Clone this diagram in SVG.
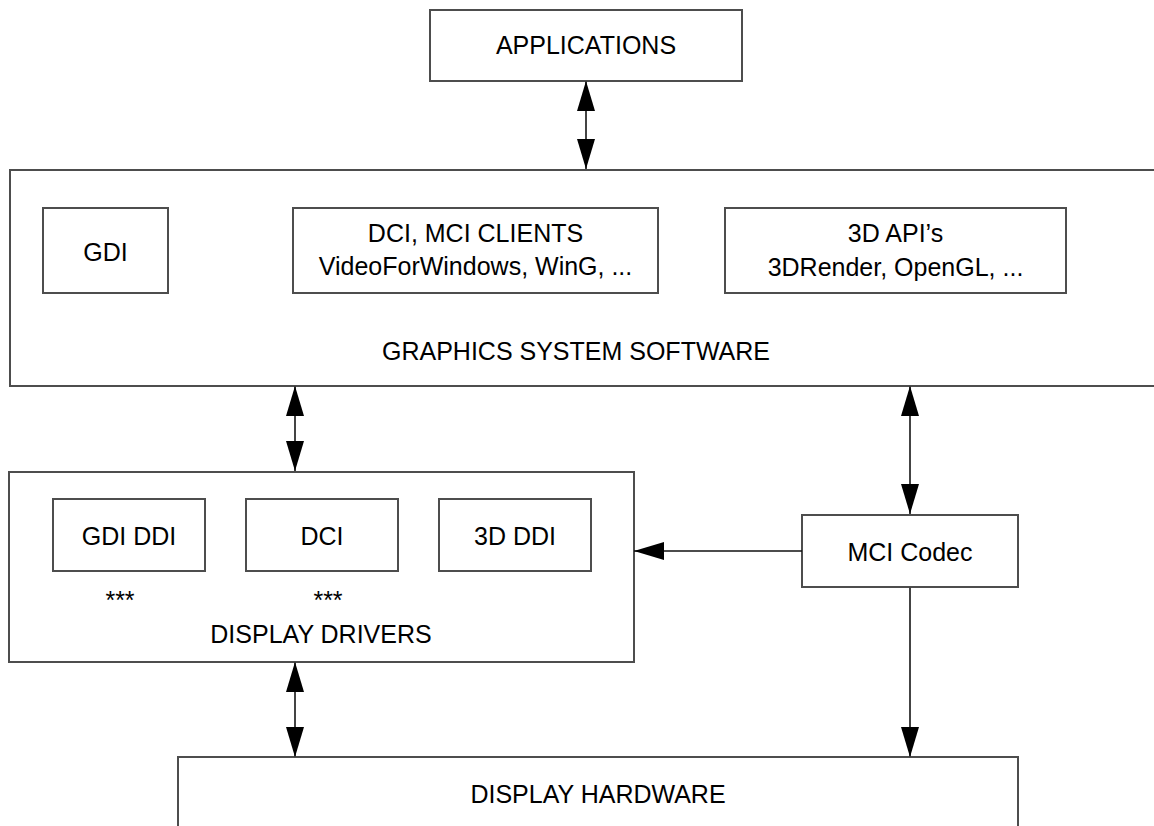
<svg xmlns="http://www.w3.org/2000/svg" width="1154" height="826" viewBox="0 0 1154 826">
<style>
  .box { fill: #ffffff; stroke: #4d4d4d; stroke-width: 2; }
  .lbl { font-family: "Liberation Sans", Arial, sans-serif; font-size: 25px; fill: #000000; text-anchor: middle; }
  .conn { fill: none; stroke: #444444; stroke-width: 2; }
</style>
<defs>
  <marker id="ah" viewBox="0 0 30 18" refX="30" refY="9" markerWidth="30" markerHeight="18" markerUnits="userSpaceOnUse" orient="auto-start-reverse">
    <path d="M0,0 L30,9 L0,18 Z" fill="#000000"/>
  </marker>
</defs>
<rect width="1154" height="826" fill="#ffffff"/>

<g id="graphics-system">
  <rect class="box" x="10" y="170" width="1160" height="216"/>
  <text class="lbl" x="576" y="360">GRAPHICS SYSTEM SOFTWARE</text>
</g>
<g id="gdi">
  <rect class="box" x="43" y="208" width="125" height="85"/>
  <text class="lbl" x="105.5" y="261">GDI</text>
</g>
<g id="dci-mci-clients">
  <rect class="box" x="293" y="208" width="365" height="85"/>
  <text class="lbl" x="475.5" y="242">DCI, MCI CLIENTS</text>
  <text class="lbl" x="475.5" y="275">VideoForWindows, WinG, ...</text>
</g>
<g id="api-3d">
  <rect class="box" x="725" y="208" width="341" height="85"/>
  <text class="lbl" x="895.5" y="242">3D API’s</text>
  <text class="lbl" x="895.5" y="276">3DRender, OpenGL, ...</text>
</g>
<g id="applications">
  <rect class="box" x="430" y="10" width="312" height="71"/>
  <text class="lbl" x="586" y="54">APPLICATIONS</text>
</g>
<g id="display-drivers">
  <rect class="box" x="9" y="472" width="625" height="190"/>
  <text class="lbl" x="120" y="609">***</text>
  <text class="lbl" x="328" y="609">***</text>
  <text class="lbl" x="321" y="643">DISPLAY DRIVERS</text>
</g>
<g id="gdi-ddi">
  <rect class="box" x="53" y="499" width="152" height="72"/>
  <text class="lbl" x="129" y="545">GDI DDI</text>
</g>
<g id="dci">
  <rect class="box" x="246" y="499" width="152" height="72"/>
  <text class="lbl" x="322" y="545">DCI</text>
</g>
<g id="ddi-3d">
  <rect class="box" x="439" y="499" width="152" height="72"/>
  <text class="lbl" x="515" y="545">3D DDI</text>
</g>
<g id="mci-codec">
  <rect class="box" x="802" y="515" width="216" height="72"/>
  <text class="lbl" x="910" y="561">MCI Codec</text>
</g>
<g id="display-hardware">
  <rect class="box" x="178" y="757" width="840" height="120"/>
  <text class="lbl" x="598" y="803">DISPLAY HARDWARE</text>
</g>

<g id="connectors">
  <line class="conn" x1="586" y1="81" x2="586" y2="169" marker-start="url(#ah)" marker-end="url(#ah)"/>
  <line class="conn" x1="295" y1="386" x2="295" y2="471" marker-start="url(#ah)" marker-end="url(#ah)"/>
  <line class="conn" x1="910" y1="386" x2="910" y2="514" marker-start="url(#ah)" marker-end="url(#ah)"/>
  <line class="conn" x1="802" y1="551" x2="634" y2="551" style="stroke:#111111;stroke-width:1.5" marker-end="url(#ah)"/>
  <line class="conn" x1="910" y1="587" x2="910" y2="757" marker-end="url(#ah)"/>
  <line class="conn" x1="295" y1="662" x2="295" y2="757" marker-start="url(#ah)" marker-end="url(#ah)"/>
</g>
</svg>
